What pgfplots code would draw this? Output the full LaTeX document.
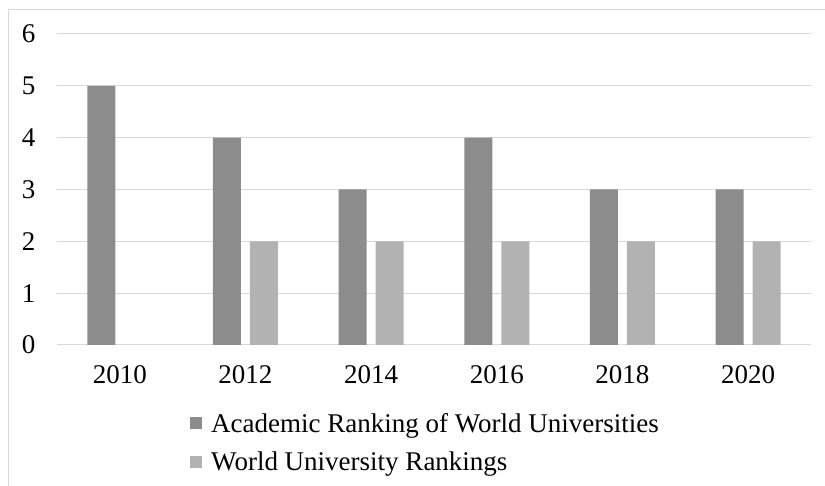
\documentclass[border=0pt]{standalone}
\usepackage{pgfplots}
\pgfplotsset{compat=1.18}
\usepackage{fontspec}
\setmainfont{Liberation Serif}

\definecolor{darkbar}{HTML}{8C8C8C}
\definecolor{lightbar}{HTML}{B2B2B2}
\definecolor{gridc}{HTML}{D9D9D9}

\begin{document}
\begin{tikzpicture}[x=1pt,y=1pt]
    \useasboundingbox (-57,-141) rectangle (768,345);
    \begin{axis}[
        at={(0,0)}, anchor=south west,
        scale only axis,
        width=754pt, height=311pt,
        ybar=9pt, bar width=28pt,
        xmin=-0.5, xmax=5.5,
        ymin=0, ymax=6,
        xtick=data,
        xticklabels={2010,2012,2014,2016,2018,2020},
        ytick={0,1,...,6},
        ymajorgrids=true,
        grid style={gridc, line width=1pt},
        axis line style={draw=none},
        major tick length=0pt,
        tick label style={font=\fontsize{27}{29}\selectfont},
        /pgf/number format/assume math mode=true,
        yticklabel style={xshift=-18pt},
        xticklabel style={yshift=-17pt},
        legend style={
            at={(133pt,-66pt)}, anchor=north west,
            draw=none, fill=none, inner sep=0pt,
            font=\fontsize{27}{29}\selectfont,
            legend cell align=left,
            row sep=14pt,
        },
        legend image code/.code={
            \fill[#1] (0pt,-6pt) rectangle (12pt,6pt);
            \path (19pt,0pt);
        },
    ]
    \addplot[fill=darkbar, draw=none]
        coordinates {(0,5)(1,4)(2,3)(3,4)(4,3)(5,3)};
    \addlegendentry{Academic Ranking of World Universities}

    \addplot[fill=lightbar, draw=none]
        coordinates {(1,2)(2,2)(3,2)(4,2)(5,2)};
    \addlegendentry{World University Rankings}
    \end{axis}
    \draw[gridc, line width=1pt] (-48,-141) -- (-48,335) -- (768,335);
\end{tikzpicture}
\end{document}
